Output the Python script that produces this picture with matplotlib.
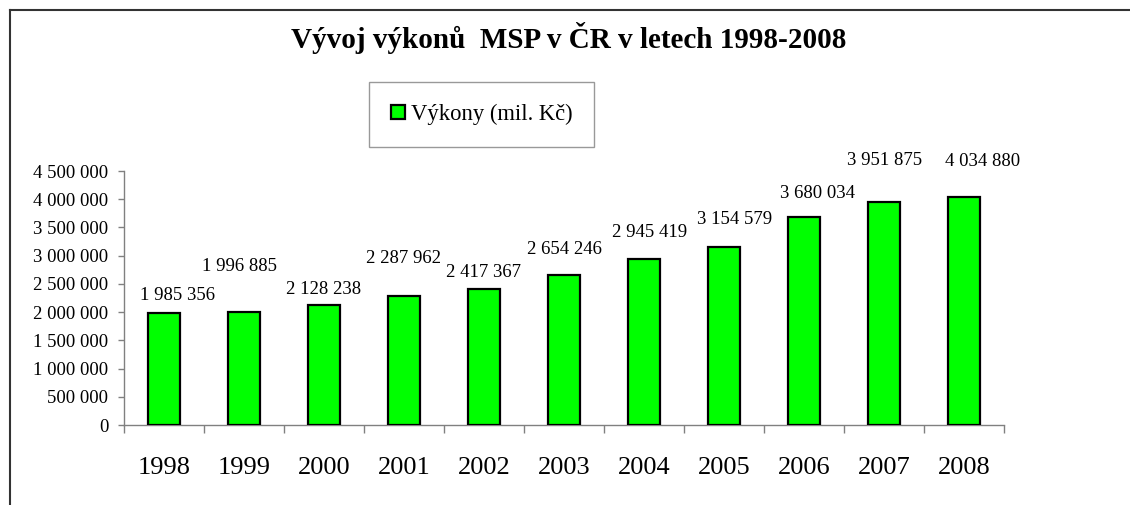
import matplotlib
matplotlib.use("Agg")
import matplotlib.pyplot as plt
from matplotlib.lines import Line2D
import numpy as np

years = ["1998", "1999", "2000", "2001", "2002", "2003", "2004", "2005", "2006", "2007", "2008"]
values = [1985356, 1996885, 2128238, 2287962, 2417367, 2654246, 2945419, 3154579, 3680034, 3951875, 4034880]
value_labels = ["1 985 356", "1 996 885", "2 128 238", "2 287 962", "2 417 367", "2 654 246",
                "2 945 419", "3 154 579", "3 680 034", "3 951 875", "4 034 880"]
yticks = [0, 500000, 1000000, 1500000, 2000000, 2500000, 3000000, 3500000, 4000000, 4500000]
ytick_labels = ["0", "500 000", "1 000 000", "1 500 000", "2 000 000", "2 500 000",
                "3 000 000", "3 500 000", "4 000 000", "4 500 000"]
title = "Vývoj výkonů  MSP v ČR v letech 1998-2008"
legend_label = "Výkony (mil. Kč)"

# label placement offsets (pixels): dx from bar centre, dy of label centre above bar top
label_dx = [13, -4, 0, 0, 0, 0, 6, 11, 13, 1, 19]
label_dy = [17, 46, 15, 37, 16, 26, 26, 27, 24, 41, 36]

plt.rcParams['font.family'] = ['Liberation Serif', 'DejaVu Serif']

W, H = 1130, 505
fig = plt.figure(figsize=(W / 100, H / 100), dpi=100)
fig.patch.set_facecolor('white')

ax_l, ax_r, ax_b, ax_t = 124, 1004, 425, 171
ax = fig.add_axes([ax_l / W, 1 - ax_b / H, (ax_r - ax_l) / W, (ax_b - ax_t) / H])

x = np.arange(len(years))
bars = ax.bar(x, values, width=0.41, color='#00FF00', edgecolor='black', linewidth=1.6,
              label=legend_label, zorder=3)

ax.set_xlim(-0.5, len(years) - 0.5)
ax.set_ylim(0, 4500000)

for s in ['top', 'right']:
    ax.spines[s].set_visible(False)
for s in ['left', 'bottom']:
    ax.spines[s].set_color('#808080')
    ax.spines[s].set_linewidth(1.0)

ax.set_yticks(yticks)
ax.set_yticklabels(ytick_labels, fontsize=13.5)
ax.tick_params(axis='y', direction='out', length=4.3, width=1.0, color='#808080', pad=7)

ax.set_xticks(x)
ax.set_xticklabels(years, fontsize=19)
ax.tick_params(axis='x', which='major', length=0, pad=23)
ax.set_xticks(np.arange(-0.5, len(years), 1.0), minor=True)
ax.tick_params(axis='x', which='minor', direction='out', length=5.8, width=1.0, color='#808080')

for i, v in enumerate(values):
    ax.annotate(value_labels[i], xy=(x[i], v), xytext=(label_dx[i], label_dy[i]),
                textcoords='offset pixels', ha='center', va='center', fontsize=13.5)

fig.text(569 / W, 1 - 38 / H, title, ha='center', va='center', fontsize=21, fontweight='bold')

leg = fig.legend(handles=[bars], labels=[legend_label], loc='center',
                 bbox_to_anchor=(481.5 / W, 1 - 114.5 / H), fontsize=16.3,
                 frameon=True, fancybox=False, shadow=False, borderpad=0.98,
                 handlelength=0.62, handleheight=0.62, handletextpad=0.25,
                 borderaxespad=0)
leg.get_frame().set_edgecolor('#808080')
leg.get_frame().set_linewidth(1.0)

# outer chart frame (top and left edges)
fig.add_artist(Line2D([10 / W, 1.0], [1 - 10 / H, 1 - 10 / H], transform=fig.transFigure,
                      color='#333333', linewidth=1.5))
fig.add_artist(Line2D([10 / W, 10 / W], [1 - 10 / H, 0.0], transform=fig.transFigure,
                      color='#333333', linewidth=1.5))

fig.savefig('out.png', dpi=100)
